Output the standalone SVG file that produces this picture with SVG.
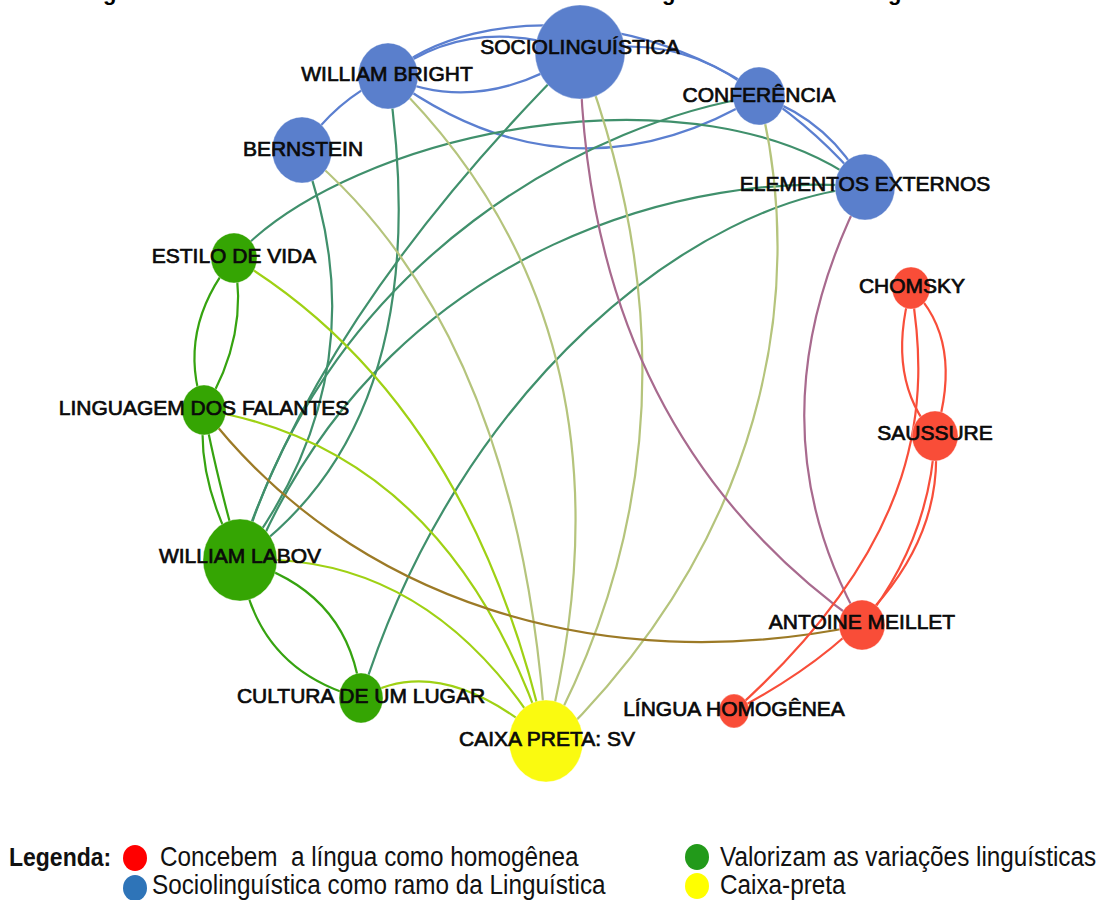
<svg xmlns="http://www.w3.org/2000/svg" width="1112" height="900" viewBox="0 0 1112 900">
  <style>
    .e { fill: none; stroke-width: 2.2; stroke-linecap: round; }
    .bb { stroke: #5b7fd0; }
    .bg { stroke: #40906c; }
    .by { stroke: #b5c47c; }
    .gy { stroke: #9fd114; }
    .gg { stroke: #36a310; }
    .gr { stroke: #9c7a26; }
    .br { stroke: #a86a8e; }
    .rr { stroke: #f84e3a; }
    .blue { fill: #5a7fcc; }
    .green { fill: #35a503; }
    .red { fill: #f94d38; }
    .yellow { fill: #fafa10; }
    .node ellipse { stroke: #ffffff; stroke-opacity: 0.35; stroke-width: 1; }
    .lbl { font-family: "Liberation Sans", Arial, sans-serif; font-size: 21px; fill: #0a0a0a; stroke: #0a0a0a; stroke-width: 0.7; text-anchor: middle; }
    .title { font-family: "Liberation Sans", Arial, sans-serif; font-size: 22px; font-weight: bold; fill: #000; }
    .leg { font-family: "Liberation Sans", Arial, sans-serif; font-size: 24.3px; fill: #111; white-space: pre; }
    .legb { font-family: "Liberation Sans", Arial, sans-serif; font-size: 23px; font-weight: bold; fill: #111; }
  </style>

  <rect width="1112" height="900" fill="#ffffff"/>

  <!-- heading line, clipped by the top edge -->
  <g id="title">
    <text class="title" x="103" y="0">g</text>
    <text class="title" x="662" y="0">g</text>
    <text class="title" x="888" y="0">g</text>
  </g>

  <g id="connectors">
    <!-- Sociolinguistics cluster -->
    <path class="e bb" d="M302,150 Q335,100 388,76"/>
    <path class="e bb" d="M388,76 Q480,118 580,52"/>
    <path class="e bb" d="M388,76 Q470,12 580,52"/>
    <path class="e bb" d="M388,76 C470,0 700,-10 865,187"/>
    <path class="e bb" d="M388,76 Q570,210 759,96"/>
    <path class="e bb" d="M580,52 Q680,30 759,96"/>
    <path class="e bb" d="M759,96 Q830,120 865,187"/>

    <!-- sociolinguistics to variation -->
    <path class="e bg" d="M302,150 Q385,370 240,560"/>
    <path class="e bg" d="M388,76 Q440,420 240,560"/>
    <path class="e bg" d="M580,52 Q330,300 245,540"/>
    <path class="e bg" d="M759,96 C600,120 330,250 240,560"/>
    <path class="e bg" d="M865,187 C700,170 400,240 262,540"/>
    <path class="e bg" d="M865,187 C700,200 460,380 361,698"/>
    <path class="e bg" d="M234,258 C350,130 700,60 865,187"/>

    <!-- sociolinguistics to black box -->
    <path class="e by" d="M302,150 Q520,330 546,741"/>
    <path class="e by" d="M388,76 Q650,330 546,741"/>
    <path class="e by" d="M580,52 Q720,420 546,741"/>
    <path class="e by" d="M759,96 C810,300 760,540 556,741"/>

    <!-- variation to black box -->
    <path class="e gy" d="M234,258 Q470,400 546,741"/>
    <path class="e gy" d="M204,410 Q450,450 546,741"/>
    <path class="e gy" d="M240,560 Q430,550 546,741"/>
    <path class="e gy" d="M361,698 Q440,650 546,741"/>

    <!-- variation cluster -->
    <path class="e gg" d="M234,258 Q250,335 204,410"/>
    <path class="e gg" d="M234,258 Q175,330 204,410"/>
    <path class="e gg" d="M204,410 Q195,480 240,560"/>
    <path class="e gg" d="M204,410 Q215,470 240,560"/>
    <path class="e gg" d="M240,560 Q255,670 361,698"/>
    <path class="e gg" d="M240,560 Q350,590 361,698"/>

    <!-- variation to homogeneity -->
    <path class="e gr" d="M204,410 C350,600 600,680 862,625"/>

    <!-- sociolinguistics to homogeneity -->
    <path class="e br" d="M580,52 Q585,430 862,625"/>
    <path class="e br" d="M865,187 Q745,420 862,625"/>

    <!-- homogeneity cluster -->
    <path class="e rr" d="M911,288 Q885,380 935,436"/>
    <path class="e rr" d="M911,288 Q965,340 935,436"/>
    <path class="e rr" d="M911,288 C930,400 925,540 734,711"/>
    <path class="e rr" d="M935,436 Q930,540 862,625"/>
    <path class="e rr" d="M935,436 C948,560 850,650 734,711"/>
  </g>

  <g id="n-sociolinguistica" class="node">
    <ellipse class="blue" cx="580" cy="52" rx="45" ry="47"/>
    <text class="lbl" x="580" y="54">SOCIOLINGUÍSTICA</text>
  </g>
  <g id="n-william-bright" class="node">
    <ellipse class="blue" cx="388" cy="76" rx="30" ry="33"/>
    <text class="lbl" x="387" y="81">WILLIAM BRIGHT</text>
  </g>
  <g id="n-bernstein" class="node">
    <ellipse class="blue" cx="302" cy="150" rx="30" ry="33"/>
    <text class="lbl" x="303" y="156">BERNSTEIN</text>
  </g>
  <g id="n-conferencia" class="node">
    <ellipse class="blue" cx="759" cy="96" rx="26" ry="29"/>
    <text class="lbl" x="759" y="102">CONFERÊNCIA</text>
  </g>
  <g id="n-elementos-externos" class="node">
    <ellipse class="blue" cx="865" cy="187" rx="30" ry="33"/>
    <text class="lbl" x="865" y="191">ELEMENTOS EXTERNOS</text>
  </g>
  <g id="n-chomsky" class="node">
    <ellipse class="red" cx="911" cy="288" rx="19" ry="21"/>
    <text class="lbl" x="912" y="293">CHOMSKY</text>
  </g>
  <g id="n-saussure" class="node">
    <ellipse class="red" cx="935" cy="436" rx="23" ry="25"/>
    <text class="lbl" x="935" y="440">SAUSSURE</text>
  </g>
  <g id="n-antoine-meillet" class="node">
    <ellipse class="red" cx="862" cy="625" rx="23" ry="25"/>
    <text class="lbl" x="862" y="629">ANTOINE MEILLET</text>
  </g>
  <g id="n-lingua-homogenea" class="node">
    <ellipse class="red" cx="734" cy="711" rx="15" ry="17"/>
    <text class="lbl" x="734" y="716">LÍNGUA HOMOGÊNEA</text>
  </g>
  <g id="n-caixa-preta" class="node">
    <ellipse class="yellow" cx="546" cy="741" rx="37" ry="41"/>
    <text class="lbl" x="547" y="746">CAIXA PRETA: SV</text>
  </g>
  <g id="n-cultura" class="node">
    <ellipse class="green" cx="361" cy="698" rx="22" ry="25"/>
    <text class="lbl" x="361" y="703">CULTURA DE UM LUGAR</text>
  </g>
  <g id="n-william-labov" class="node">
    <ellipse class="green" cx="240" cy="560" rx="37" ry="41"/>
    <text class="lbl" x="240" y="563">WILLIAM LABOV</text>
  </g>
  <g id="n-linguagem" class="node">
    <ellipse class="green" cx="204" cy="410" rx="22" ry="25"/>
    <text class="lbl" x="204" y="415">LINGUAGEM DOS FALANTES</text>
  </g>
  <g id="n-estilo" class="node">
    <ellipse class="green" cx="234" cy="258" rx="23" ry="25"/>
    <text class="lbl" x="234" y="263">ESTILO DE VIDA</text>
  </g>

  <!-- white band below the graph -->
  <rect x="0" y="782" width="1112" height="60" fill="#ffffff"/>

  <g id="legend">
    <text class="legb" transform="translate(9,866) scale(1,1.1)">Legenda:</text>
    <ellipse cx="135" cy="858" rx="12" ry="13" fill="#ff0000"/>
    <text class="leg" transform="translate(160,866) scale(1,1.1)">Concebem  a língua como homogênea</text>
    <ellipse cx="697" cy="857" rx="12" ry="13" fill="#229a1a"/>
    <text class="leg" transform="translate(720,866) scale(1,1.1)">Valorizam as variações linguísticas</text>
    <ellipse cx="135" cy="888" rx="12" ry="13" fill="#2e74b8"/>
    <text class="leg" transform="translate(152,894) scale(1,1.1)">Sociolinguística como ramo da Linguística</text>
    <ellipse cx="697" cy="886" rx="12" ry="13" fill="#ffff00"/>
    <text class="leg" transform="translate(720,894) scale(1,1.1)">Caixa-preta</text>
  </g>
</svg>
